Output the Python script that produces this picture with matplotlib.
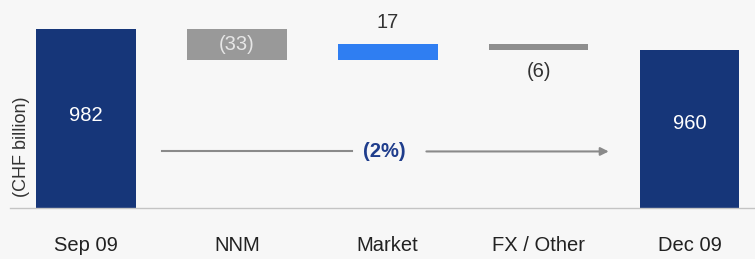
import matplotlib.pyplot as plt

categories = ['Sep 09', 'NNM', 'Market', 'FX / Other', 'Dec 09']
changes = [982, -33, 17, -6, 960]
labels = ['982', '(33)', '17', '(6)', '960']
change_pct = '(2%)'

NAVY = '#163679'
GREY = '#999999'
BLUE = '#2f7ef2'
FXGREY = '#8e8e8e'
BG = '#f7f7f7'

plt.rcParams['font.family'] = ['Liberation Sans', 'DejaVu Sans']

fig = plt.figure(figsize=(7.55, 2.59), dpi=100, facecolor=BG)
ax = fig.add_axes([10 / 755, 1 - 208 / 259, 745 / 755, 208 / 259])
ax.set_facecolor(BG)

base = 795
# running waterfall levels
bottoms, heights = [], []
level = changes[0]
bottoms.append(base)
heights.append(changes[0] - base)
for c in changes[1:-1]:
    if c < 0:
        bottoms.append(level + c)
        heights.append(-c)
    else:
        bottoms.append(level)
        heights.append(c)
    level += c
bottoms.append(base)
heights.append(changes[-1] - base)

colors = [NAVY, GREY, BLUE, FXGREY, NAVY]
x = list(range(len(categories)))
ax.bar(x, heights, bottom=bottoms, width=0.66, color=colors, edgecolor='none')

fs = 14.5
ax.text(x[0], 892, labels[0], color='white', ha='center', va='center', fontsize=fs)
ax.text(x[1], bottoms[1] + heights[1] / 2, labels[1], color='#e6e6e6', ha='center', va='center', fontsize=fs)
ax.text(x[2], bottoms[2] + heights[2] + 23, labels[2], color='#333333', ha='center', va='center', fontsize=fs)
ax.text(x[3], bottoms[3] - 23, labels[3], color='#333333', ha='center', va='center', fontsize=fs)
ax.text(x[4], 883, labels[4], color='white', ha='center', va='center', fontsize=fs)

# total change arrow
arrow_y = 854
ax.plot([0.503, 1.762], [arrow_y, arrow_y], color='#8a8a8a', lw=1.5)
ax.annotate('', xy=(3.483, arrow_y), xytext=(2.238, arrow_y),
            arrowprops=dict(arrowstyle='-|>', color='#8a8a8a', lw=1.5, mutation_scale=12))
ax.text(1.98, arrow_y, change_pct, color='#1f3d8c', fontweight='bold', ha='center', va='center', fontsize=fs)

ax.set_xlim(-0.503, 4.434)
ax.set_ylim(base, 1012)
for s in ['top', 'right', 'left']:
    ax.spines[s].set_visible(False)
ax.spines['bottom'].set_color('#c4c4c4')
ax.spines['bottom'].set_linewidth(1)
ax.set_yticks([])
ax.set_xticks(x)
ax.set_xticklabels(categories, fontsize=fs, color='#222222')
ax.tick_params(axis='x', length=0, pad=20)

fig.text(22 / 755, 1 - 147 / 259, '(CHF billion)', rotation=90, ha='center', va='center',
         fontsize=13, color='#333333')

fig.savefig('out.png', dpi=100, facecolor=BG)
